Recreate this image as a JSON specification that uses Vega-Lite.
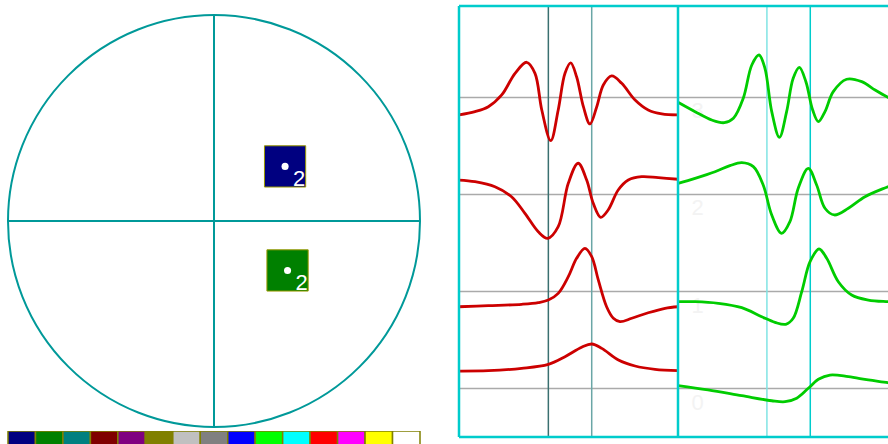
{
  "$schema": "https://vega.github.io/schema/vega-lite/v6.json",
  "padding": 0,
  "autosize": {"type": "pad"},
  "background": "white",
  "config": {"view": {"stroke": null}},
  "spacing": 29,
  "datasets": {
    "traces": [
      {"c":"R","n":3,"t":0,"a":2.820},{"c":"R","n":3,"t":0.73,"a":2.854},{"c":"R","n":3,"t":1.34,"a":2.905},{"c":"R","n":3,"t":1.95,"a":3.026},{"c":"R","n":3,"t":2.56,"a":3.249},{"c":"R","n":3,"t":3.09,"a":3.363},{"c":"R","n":3,"t":3.47,"a":3.249},{"c":"R","n":3,"t":3.78,"a":2.871},{"c":"R","n":3,"t":4.19,"a":2.555},{"c":"R","n":3,"t":4.53,"a":2.871},{"c":"R","n":3,"t":4.84,"a":3.249},{"c":"R","n":3,"t":5.10,"a":3.356},{"c":"R","n":3,"t":5.37,"a":3.214},{"c":"R","n":3,"t":5.68,"a":2.905},{"c":"R","n":3,"t":5.98,"a":2.727},{"c":"R","n":3,"t":6.29,"a":2.905},{"c":"R","n":3,"t":6.59,"a":3.129},{"c":"R","n":3,"t":6.97,"a":3.222},{"c":"R","n":3,"t":7.43,"a":3.146},{"c":"R","n":3,"t":8.04,"a":2.974},{"c":"R","n":3,"t":8.64,"a":2.871},{"c":"R","n":3,"t":9.26,"a":2.830},{"c":"R","n":3,"t":10,"a":2.820},
      {"c":"R","n":2,"t":0,"a":2.149},{"c":"R","n":2,"t":0.73,"a":2.132},{"c":"R","n":2,"t":1.64,"a":2.080},{"c":"R","n":2,"t":2.40,"a":1.977},{"c":"R","n":2,"t":3.01,"a":1.806},{"c":"R","n":2,"t":3.62,"a":1.616},{"c":"R","n":2,"t":4.05,"a":1.548},{"c":"R","n":2,"t":4.53,"a":1.668},{"c":"R","n":2,"t":4.99,"a":2.115},{"c":"R","n":2,"t":5.44,"a":2.322},{"c":"R","n":2,"t":5.83,"a":2.149},{"c":"R","n":2,"t":6.13,"a":1.909},{"c":"R","n":2,"t":6.47,"a":1.765},{"c":"R","n":2,"t":6.81,"a":1.840},{"c":"R","n":2,"t":7.27,"a":2.046},{"c":"R","n":2,"t":7.73,"a":2.149},{"c":"R","n":2,"t":8.34,"a":2.184},{"c":"R","n":2,"t":9.10,"a":2.173},{"c":"R","n":2,"t":10,"a":2.157},
      {"c":"R","n":1,"t":0,"a":0.843},{"c":"R","n":1,"t":1.34,"a":0.854},{"c":"R","n":1,"t":2.86,"a":0.868},{"c":"R","n":1,"t":3.62,"a":0.885},{"c":"R","n":1,"t":4.08,"a":0.912},{"c":"R","n":1,"t":4.53,"a":0.981},{"c":"R","n":1,"t":4.99,"a":1.153},{"c":"R","n":1,"t":5.37,"a":1.342},{"c":"R","n":1,"t":5.75,"a":1.445},{"c":"R","n":1,"t":6.06,"a":1.359},{"c":"R","n":1,"t":6.36,"a":1.119},{"c":"R","n":1,"t":6.74,"a":0.843},{"c":"R","n":1,"t":7.05,"a":0.724},{"c":"R","n":1,"t":7.35,"a":0.689},{"c":"R","n":1,"t":7.89,"a":0.724},{"c":"R","n":1,"t":8.64,"a":0.781},{"c":"R","n":1,"t":9.41,"a":0.827},{"c":"R","n":1,"t":10,"a":0.843},
      {"c":"R","n":0,"t":0,"a":0.180},{"c":"R","n":0,"t":1.34,"a":0.184},{"c":"R","n":0,"t":2.86,"a":0.208},{"c":"R","n":0,"t":4.08,"a":0.249},{"c":"R","n":0,"t":4.84,"a":0.328},{"c":"R","n":0,"t":5.60,"a":0.425},{"c":"R","n":0,"t":6.06,"a":0.459},{"c":"R","n":0,"t":6.52,"a":0.414},{"c":"R","n":0,"t":7.28,"a":0.294},{"c":"R","n":0,"t":8.04,"a":0.232},{"c":"R","n":0,"t":8.95,"a":0.198},{"c":"R","n":0,"t":10,"a":0.184},
      {"c":"G","n":3,"t":10,"a":2.951},{"c":"G","n":3,"t":10.78,"a":2.854},{"c":"G","n":3,"t":11.54,"a":2.768},{"c":"G","n":3,"t":12.11,"a":2.740},{"c":"G","n":3,"t":12.53,"a":2.786},{"c":"G","n":3,"t":12.98,"a":2.992},{"c":"G","n":3,"t":13.37,"a":3.335},{"c":"G","n":3,"t":13.70,"a":3.438},{"c":"G","n":3,"t":13.97,"a":3.301},{"c":"G","n":3,"t":14.28,"a":2.854},{"c":"G","n":3,"t":14.63,"a":2.590},{"c":"G","n":3,"t":14.96,"a":2.854},{"c":"G","n":3,"t":15.26,"a":3.198},{"c":"G","n":3,"t":15.54,"a":3.311},{"c":"G","n":3,"t":15.84,"a":3.163},{"c":"G","n":3,"t":16.15,"a":2.871},{"c":"G","n":3,"t":16.41,"a":2.751},{"c":"G","n":3,"t":16.71,"a":2.854},{"c":"G","n":3,"t":17.09,"a":3.060},{"c":"G","n":3,"t":17.70,"a":3.188},{"c":"G","n":3,"t":18.39,"a":3.163},{"c":"G","n":3,"t":19.00,"a":3.077},{"c":"G","n":3,"t":19.58,"a":3.002},{"c":"G","n":3,"t":20.2,"a":2.933},
      {"c":"G","n":2,"t":10,"a":2.115},{"c":"G","n":2,"t":10.78,"a":2.167},{"c":"G","n":2,"t":11.69,"a":2.235},{"c":"G","n":2,"t":12.37,"a":2.297},{"c":"G","n":2,"t":12.91,"a":2.328},{"c":"G","n":2,"t":13.44,"a":2.287},{"c":"G","n":2,"t":13.89,"a":2.098},{"c":"G","n":2,"t":14.28,"a":1.789},{"c":"G","n":2,"t":14.73,"a":1.600},{"c":"G","n":2,"t":15.11,"a":1.720},{"c":"G","n":2,"t":15.49,"a":2.064},{"c":"G","n":2,"t":15.95,"a":2.270},{"c":"G","n":2,"t":16.33,"a":2.098},{"c":"G","n":2,"t":16.71,"a":1.858},{"c":"G","n":2,"t":17.14,"a":1.789},{"c":"G","n":2,"t":17.78,"a":1.858},{"c":"G","n":2,"t":18.54,"a":1.977},{"c":"G","n":2,"t":19.58,"a":2.080},{"c":"G","n":2,"t":20.2,"a":2.136},
      {"c":"G","n":1,"t":10,"a":0.895},{"c":"G","n":1,"t":10.78,"a":0.895},{"c":"G","n":1,"t":11.84,"a":0.878},{"c":"G","n":1,"t":12.91,"a":0.833},{"c":"G","n":1,"t":13.82,"a":0.740},{"c":"G","n":1,"t":14.43,"a":0.682},{"c":"G","n":1,"t":14.92,"a":0.662},{"c":"G","n":1,"t":15.26,"a":0.724},{"c":"G","n":1,"t":15.65,"a":0.998},{"c":"G","n":1,"t":16.03,"a":1.307},{"c":"G","n":1,"t":16.44,"a":1.438},{"c":"G","n":1,"t":16.79,"a":1.342},{"c":"G","n":1,"t":17.32,"a":1.101},{"c":"G","n":1,"t":17.93,"a":0.964},{"c":"G","n":1,"t":18.69,"a":0.912},{"c":"G","n":1,"t":19.58,"a":0.895},{"c":"G","n":1,"t":20.2,"a":0.889},
      {"c":"G","n":0,"t":10,"a":0.029},{"c":"G","n":0,"t":11.37,"a":-0.015},{"c":"G","n":0,"t":12.91,"a":-0.074},{"c":"G","n":0,"t":14.28,"a":-0.126},{"c":"G","n":0,"t":14.89,"a":-0.136},{"c":"G","n":0,"t":15.42,"a":-0.101},{"c":"G","n":0,"t":15.95,"a":0.002},{"c":"G","n":0,"t":16.41,"a":0.095},{"c":"G","n":0,"t":16.94,"a":0.139},{"c":"G","n":0,"t":17.78,"a":0.122},{"c":"G","n":0,"t":18.69,"a":0.088},{"c":"G","n":0,"t":19.58,"a":0.060},{"c":"G","n":0,"t":20.2,"a":0.036}
    ],
    "palette": [
      {"name":"navy"},{"name":"green"},{"name":"teal"},{"name":"maroon"},{"name":"purple"},{"name":"olive"},{"name":"silver"},{"name":"gray"},{"name":"blue"},{"name":"lime"},{"name":"cyan"},{"name":"red"},{"name":"magenta"},{"name":"yellow"},{"name":"white"}
    ]
  },
  "hconcat": [
    {
      "spacing": 0,
      "vconcat": [
        {
          "width": 428,
          "height": 429,
          "layer": [
            {
              "data": {"values": [{"cx": 0, "cy": 0}]},
              "mark": {"type": "point", "shape": "circle", "filled": false, "size": 169744, "stroke": "#009999", "strokeWidth": 2, "opacity": 1},
              "encoding": {
                "x": {"field": "cx", "type": "quantitative", "scale": {"domain": [-1.0388, 1.0388], "nice": false, "zero": false}, "axis": null},
                "y": {"field": "cy", "type": "quantitative", "scale": {"domain": [-1.0097, 1.0728], "nice": false, "zero": false}, "axis": null}
              }
            },
            {
              "data": {"values": [{"x": 0, "y": -1, "x2": 0, "y2": 1}, {"x": -1, "y": 0, "x2": 1, "y2": 0}]},
              "mark": {"type": "rule", "color": "#009999", "strokeWidth": 2},
              "encoding": {
                "x": {"field": "x", "type": "quantitative"},
                "x2": {"field": "x2"},
                "y": {"field": "y", "type": "quantitative"},
                "y2": {"field": "y2"}
              }
            },
            {
              "data": {"values": [{"x": 0.345, "y": 0.265, "c": "navy", "n": "2"}, {"x": 0.357, "y": -0.240, "c": "green", "n": "2"}]},
              "layer": [
                {
                  "mark": {"type": "point", "shape": "square", "filled": true, "size": 1700, "stroke": "#999900", "strokeWidth": 1, "opacity": 1},
                  "encoding": {
                    "x": {"field": "x", "type": "quantitative"},
                    "y": {"field": "y", "type": "quantitative"},
                    "fill": {"field": "c", "type": "nominal", "scale": {"domain": ["navy","green","teal","maroon","purple","olive","silver","gray","blue","lime","cyan","red","magenta","yellow","white"], "range": ["#000080","#008000","#008080","#800000","#800080","#808000","#c0c0c0","#808080","#0000ff","#00ff00","#00ffff","#ff0000","#ff00ff","#ffff00","#ffffff"]}, "legend": null}
                  }
                },
                {
                  "mark": {"type": "point", "shape": "circle", "filled": true, "size": 50, "color": "white", "opacity": 1},
                  "encoding": {
                    "x": {"field": "x", "type": "quantitative"},
                    "y": {"field": "y", "type": "quantitative"}
                  }
                },
                {
                  "mark": {"type": "text", "color": "white", "font": "Liberation Sans", "fontSize": 22, "align": "center", "baseline": "middle", "dx": 14, "dy": 13},
                  "encoding": {
                    "x": {"field": "x", "type": "quantitative"},
                    "y": {"field": "y", "type": "quantitative"},
                    "text": {"field": "n"}
                  }
                }
              ]
            }
          ]
        },
        {
          "width": 428,
          "height": 15,
          "data": {"name": "palette"},
          "mark": {"type": "rect", "stroke": "#808000", "strokeWidth": 1.5, "clip": true},
          "encoding": {
            "x": {"field": "name", "type": "nominal", "sort": null, "scale": {"paddingInner": 0, "paddingOuter": 0.291}, "axis": null},
            "y": {"datum": 1, "type": "quantitative", "scale": {"domain": [0, 1], "nice": false}, "axis": null},
            "y2": {"datum": -0.6},
            "fill": {"field": "name", "type": "nominal", "scale": {"domain": ["navy","green","teal","maroon","purple","olive","silver","gray","blue","lime","cyan","red","magenta","yellow","white"], "range": ["#000080","#008000","#008080","#800000","#800080","#808000","#c0c0c0","#808080","#0000ff","#00ff00","#00ffff","#ff0000","#ff00ff","#ffff00","#ffffff"]}, "legend": null}
          }
        }
      ]
    },
    {
      "width": 429,
      "height": 444,
      "layer": [
        {
          "data": {"values": [{"n": 0}, {"n": 1}, {"n": 2}, {"n": 3}]},
          "mark": {"type": "text", "color": "#f3f3f3", "font": "Liberation Sans", "fontSize": 22, "align": "center", "baseline": "middle", "dy": 14},
          "encoding": {
            "x": {"datum": 10.9, "type": "quantitative", "scale": {"domain": [0, 19.589], "nice": false, "zero": false}, "axis": null},
            "y": {"field": "n", "type": "quantitative", "scale": {"domain": [-0.572, 4.005], "nice": false, "zero": false}, "axis": null},
            "text": {"field": "n", "type": "nominal"}
          }
        },
        {
          "data": {"values": [{"n": 0}, {"n": 1}, {"n": 2}, {"n": 3}]},
          "mark": {"type": "rule", "color": "#aaaaaa", "strokeWidth": 1.5, "clip": true},
          "encoding": {
            "x": {"datum": 0, "type": "quantitative"},
            "x2": {"datum": 19.589},
            "y": {"field": "n", "type": "quantitative"}
          }
        },
        {
          "data": {"values": [{"t": 4.08, "k": "a"}, {"t": 6.06, "k": "b"}, {"t": 14.06, "k": "c"}, {"t": 16.04, "k": "d"}]},
          "mark": {"type": "rule", "strokeWidth": 1.5},
          "encoding": {
            "x": {"field": "t", "type": "quantitative"},
            "y": {"datum": 3.943, "type": "quantitative"},
            "y2": {"datum": -0.5},
            "color": {"field": "k", "type": "nominal", "scale": {"domain": ["a", "b", "c", "d"], "range": ["#3a7070", "#6aa6a6", "#80e4e4", "#00cccc"]}, "legend": null}
          }
        },
        {
          "data": {"name": "traces"},
          "mark": {"type": "line", "strokeWidth": 2.8, "interpolate": "catmull-rom", "clip": true},
          "encoding": {
            "x": {"field": "t", "type": "quantitative"},
            "y": {"field": "a", "type": "quantitative"},
            "detail": {"field": "n", "type": "nominal"},
            "stroke": {"field": "c", "type": "nominal", "scale": {"domain": ["R", "G"], "range": ["#cc0000", "#00cc00"]}, "legend": null}
          }
        },
        {
          "data": {"values": [{"x": 0}, {"x": 10}]},
          "mark": {"type": "rule", "color": "#00cccc", "strokeWidth": 2.5},
          "encoding": {
            "x": {"field": "x", "type": "quantitative"},
            "y": {"datum": 3.943, "type": "quantitative"},
            "y2": {"datum": -0.5}
          }
        },
        {
          "data": {"values": [{"y": 3.943}, {"y": -0.5}]},
          "mark": {"type": "rule", "color": "#00cccc", "strokeWidth": 2.5, "clip": true},
          "encoding": {
            "x": {"datum": 0, "type": "quantitative"},
            "x2": {"datum": 19.589},
            "y": {"field": "y", "type": "quantitative"}
          }
        }
      ]
    }
  ]
}
